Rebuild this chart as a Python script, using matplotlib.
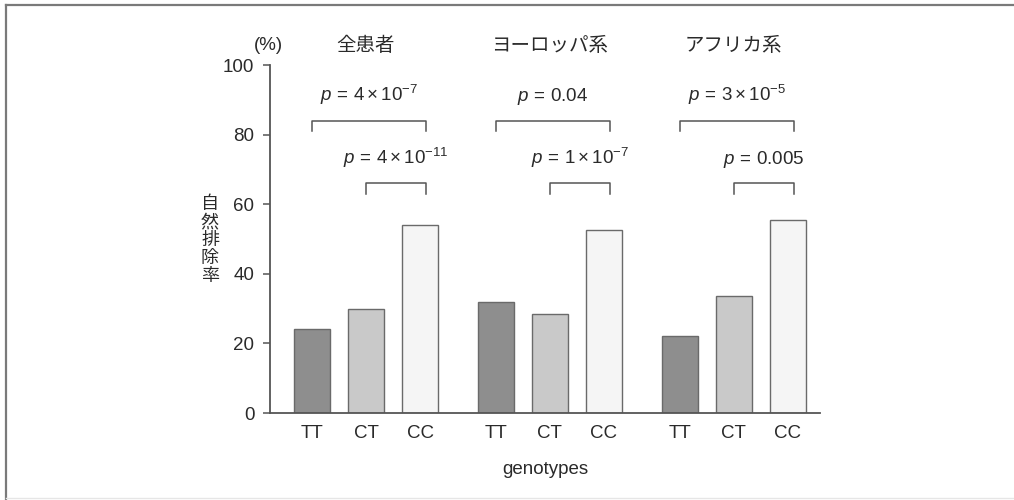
import matplotlib
matplotlib.use("Agg")
import matplotlib.pyplot as plt
from matplotlib.lines import Line2D

plt.rcParams['font.family'] = ['Liberation Sans', 'Noto Sans CJK JP', 'DejaVu Sans']
plt.rcParams['mathtext.fontset'] = 'custom'
plt.rcParams['mathtext.rm'] = 'Liberation Sans'
plt.rcParams['mathtext.it'] = 'Liberation Sans:italic'
plt.rcParams['mathtext.fallback'] = 'stixsans'

# Data
groups = ['全患者', 'ヨーロッパ系', 'アフリカ系']
genotypes = ['TT', 'CT', 'CC']
clearance_all = [24, 30, 54]
clearance_eur = [32, 28.5, 52.5]
clearance_afr = [22, 33.5, 55.5]
p_long = [r'$p\,=\,4\times10^{-7}$', r'$p\,=\,0.04$', r'$p\,=\,3\times10^{-5}$']
p_short = [r'$p\,=\,4\times10^{-11}$', r'$p\,=\,1\times10^{-7}$', r'$p\,=\,0.005$']
y_ticks = [0, 20, 40, 60, 80, 100]

series = [clearance_all, clearance_eur, clearance_afr]
bar_colors = ['#8e8e8e', '#c9c9c9', '#f5f5f5']
edge = '#6a6a6a'
text_col = '#2a2a2a'
fs = 13.5

fig = plt.figure(figsize=(10.14, 5.0), dpi=100)
ax = fig.add_axes([0.266, 0.174, 0.543, 0.696])

group_step = 3.4
width = 0.67
for g, vals in enumerate(series):
    base = g * group_step
    xs = [base + i for i in range(3)]
    ax.bar(xs, vals, width=width, color=bar_colors, edgecolor=edge, linewidth=1.0, zorder=2)
    # group heading
    ax.text(base + 1, 105.7, groups[g], ha='center', va='center', fontsize=14,
            color=text_col, family=['Noto Sans CJK JP', 'DejaVu Sans'])
    # brackets: TT vs CC and CT vs CC
    right = base + 2 + 0.11
    for left, ytop, leg, label, ylab in [(base, 84, 3, p_long[g], 87.8),
                                        (base + 1, 66, 3, p_short[g], 69.8)]:
        ax.plot([left, left, right, right], [ytop - leg, ytop, ytop, ytop - leg],
                color='#555555', linewidth=1.1, clip_on=False, zorder=3)
        ax.text((left + right) / 2, ylab, label, ha='center', va='bottom',
                fontsize=fs, color=text_col)

xticks = [g * group_step + i for g in range(3) for i in range(3)]
ax.set_xticks(xticks)
ax.set_xticklabels(genotypes * 3, fontsize=fs, color=text_col)
ax.tick_params(axis='x', length=0, pad=9)
ax.set_xlim(-0.78, 9.4)

ax.set_ylim(0, 100)
ax.set_yticks(y_ticks)
ax.set_yticklabels([str(v) for v in y_ticks], fontsize=fs, color=text_col)
ax.tick_params(axis='y', direction='out', length=5, width=1.1, color='#555555', pad=6)

for s in ['top', 'right']:
    ax.spines[s].set_visible(False)
for s in ['left', 'bottom']:
    ax.spines[s].set_color('#555555')
    ax.spines[s].set_linewidth(1.3)

ax.set_xlabel('genotypes', fontsize=fs, color=text_col, labelpad=13)

# vertical stacked y label and unit
fig.text(210 / 1014, 1 - 240 / 500, '\n'.join('自然排除率'), ha='center', va='center',
         fontsize=13, color=text_col, linespacing=1.0,
         family=['Noto Sans CJK JP', 'DejaVu Sans'])
ax.text(-0.8, 105.7, '(%)', ha='center', va='center', fontsize=fs, color=text_col)

# outer frame
fig.add_artist(Line2D([6 / 1014, 1.0], [1 - 5 / 500, 1 - 5 / 500],
                      transform=fig.transFigure, color='#7a7a7a', linewidth=1.6))
fig.add_artist(Line2D([6 / 1014, 6 / 1014], [1 - 5 / 500, 0.0],
                      transform=fig.transFigure, color='#7a7a7a', linewidth=1.6))
fig.add_artist(Line2D([6 / 1014, 1.0], [1 - 498 / 500, 1 - 498 / 500],
                      transform=fig.transFigure, color='#e6e6e6', linewidth=1.0))

fig.savefig('out.png', dpi=100, facecolor='white')
